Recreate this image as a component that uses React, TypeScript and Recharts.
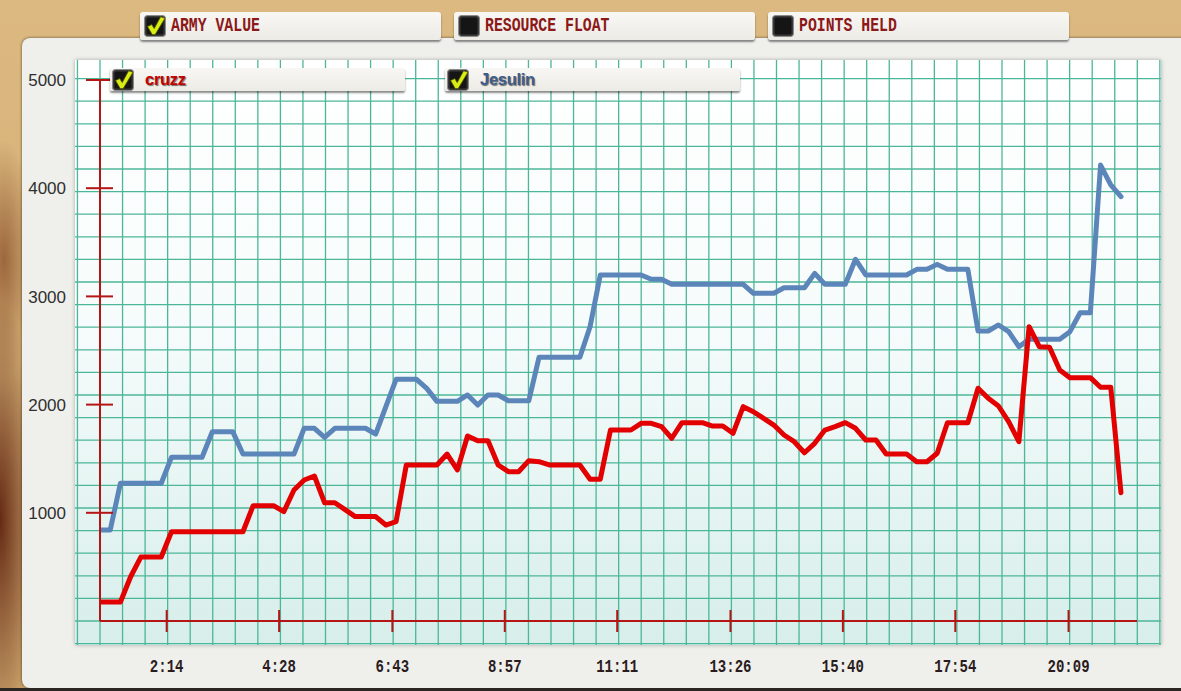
import React from "react";
import { LineChart, Line, XAxis, YAxis, Legend } from "recharts";

// army value, one sample every ~12 s of game time
const cruzzArmy = [
  176, 176, 176, 409, 591, 591, 591, 825, 825, 825,
  825, 825, 825, 825, 825, 1066, 1066, 1066, 1010, 1211,
  1303, 1340, 1093, 1093, 1030, 965, 965, 965, 887, 918,
  1442, 1442, 1442, 1442, 1543, 1396, 1710, 1666, 1666, 1442,
  1380, 1380, 1482, 1472, 1442, 1442, 1442, 1442, 1310, 1310,
  1765, 1765, 1765, 1827, 1827, 1796, 1689, 1833, 1833, 1833,
  1802, 1802, 1735, 1981, 1934, 1873, 1811, 1719, 1657, 1555,
  1642, 1765, 1796, 1833, 1781, 1673, 1673, 1543, 1543, 1543,
  1472, 1472, 1550, 1833, 1833, 1833, 2151, 2058, 1987, 1842,
  1657, 2720, 2535, 2530, 2320, 2249, 2249, 2249, 2160, 2160,
  1186,
];

const jesulinArmy = [
  841, 841, 1273, 1273, 1273, 1273, 1273, 1513, 1513, 1513,
  1513, 1750, 1750, 1750, 1543, 1543, 1543, 1543, 1543, 1543,
  1781, 1781, 1698, 1781, 1781, 1781, 1781, 1728, 1981, 2234,
  2234, 2234, 2150, 2030, 2030, 2030, 2089, 1996, 2089, 2089,
  2036, 2036, 2036, 2437, 2437, 2437, 2437, 2437, 2720, 3198,
  3198, 3198, 3198, 3198, 3158, 3158, 3112, 3112, 3112, 3112,
  3112, 3112, 3112, 3112, 3029, 3029, 3029, 3080, 3080, 3080,
  3213, 3112, 3112, 3112, 3343, 3198, 3198, 3198, 3198, 3198,
  3250, 3250, 3296, 3250, 3250, 3250, 2680, 2680, 2736, 2674,
  2535, 2603, 2603, 2603, 2603, 2674, 2849, 2849, 4214, 4030,
  3922,
];

const sampleStart = 54.5; // seconds
const sampleStep = 12.17; // seconds between samples

const xTickSeconds = [134, 268, 403, 537, 671, 806, 940, 1074, 1209];
const xTickLabels = ["2:14", "4:28", "6:43", "8:57", "11:11", "13:26", "15:40", "17:54", "20:09"];
const yTicks = [1000, 2000, 3000, 4000, 5000];

const players = ["cruzz", "Jesulin"];
const lineColors = ["#e20000", "#5c85b9"];
const nameColors = ["#c20000", "#3e5d8c"];

const statLabels = ["ARMY VALUE", "RESOURCE FLOAT", "POINTS HELD"];
const statChecked = [true, false, false];

const axisRed = "#b41515";

const data = cruzzArmy.map((v, i) => ({
  t: sampleStart + i * sampleStep,
  cruzz: v,
  Jesulin: jesulinArmy[i],
}));

function CheckBox({ checked }: { checked: boolean }) {
  return (
    <svg width={22} height={22} viewBox="0 0 22 22" style={{ display: "block", flex: "none", overflow: "visible" }}>
      <rect x={0.5} y={0.5} width={21} height={21} rx={3} fill="#3a3a3a" stroke="#8a8a8a" strokeWidth={1} />
      <rect x={2.5} y={2.5} width={17} height={17} rx={1.5} fill="#151515" />
      {checked && (
        <path
          d="M3.5 11.5 L7.8 9.6 L10.2 13.6 L16.6 1.8 L21 3.2 L11.2 19.6 L8.2 19.6 Z"
          fill="#d9ec14"
          stroke="#4d5400"
          strokeWidth={0.8}
        />
      )}
    </svg>
  );
}

const tabBase: React.CSSProperties = {
  display: "flex",
  alignItems: "center",
  boxSizing: "border-box",
  background: "linear-gradient(#f8f7f3, #ecebe6)",
  borderRadius: 3,
  boxShadow: "0 2px 2px rgba(0,0,0,0.45)",
};

function XTick(props: any) {
  const { x, y, payload } = props;
  const label = xTickLabels[xTickSeconds.indexOf(payload.value)] ?? "";
  return (
    <g>
      <line x1={x} x2={x} y1={y - 11} y2={y + 11} stroke={axisRed} strokeWidth={2} />
      <g transform={`translate(${x},${y + 51})`}>
        <text
          textAnchor="middle"
          transform="scale(0.78,1)"
          fontFamily="'Liberation Mono', monospace"
          fontWeight="bold"
          fontSize={18}
          fill="#2a1c1c"
        >
          {label}
        </text>
      </g>
    </g>
  );
}

function YTick(props: any) {
  const { x, y, payload } = props;
  return (
    <g>
      <line x1={x - 14} x2={x + 13} y1={y} y2={y} stroke={axisRed} strokeWidth={2} />
      <text
        x={x - 34}
        y={y}
        dy="0.36em"
        textAnchor="end"
        fontFamily="'Liberation Sans', Arial, sans-serif"
        fontSize={17}
        fill="#2f2f2f"
      >
        {payload.value}
      </text>
    </g>
  );
}

function renderLegend(props: any) {
  const items = [...(props.payload ?? [])].sort(
    (a: any, b: any) => players.indexOf(a.value) - players.indexOf(b.value)
  );
  return (
    <div style={{ display: "flex", gap: 40 }}>
      {items.map((e: any) => (
        <div key={e.value} style={{ ...tabBase, width: 295, height: 23, borderRadius: 2, overflow: "visible" }}>
          <div style={{ marginLeft: 2 }}>
            <CheckBox checked />
          </div>
          <span
            style={{
              marginLeft: 11,
              fontFamily: "'Liberation Sans', Arial, sans-serif",
              fontWeight: "bold",
              fontSize: 16.5,
              letterSpacing: -0.3,
              color: nameColors[players.indexOf(e.value)],
              textShadow: "1px 1px 1px rgba(0,0,0,0.55)",
            }}
          >
            {e.value}
          </span>
        </div>
      ))}
    </div>
  );
}

function GridPaper() {
  const left = 75;
  const top = 60;
  const w = 1086;
  const h = 585;
  const vs: number[] = [];
  for (let k = -1; k <= 47; k++) vs.push(100 + 22.55 * k - left);
  const hs: number[] = [];
  for (let k = -1; k <= 24; k++) hs.push(621 - 22.6 * k - top);
  return (
    <div
      style={{
        position: "absolute",
        left,
        top,
        width: w,
        height: h,
        background: "linear-gradient(#ffffff 0%, #f6fcfb 45%, #d7eeeb 100%)",
        boxShadow: "0 0 4px rgba(0,0,0,0.3)",
      }}
    >
      <svg width={w} height={h} style={{ display: "block" }}>
        {vs.map((x, i) => (
          <line key={"v" + i} x1={x} x2={x} y1={0} y2={h} stroke="#4cb699" strokeWidth={1.3} />
        ))}
        {hs.map((y, i) => (
          <line key={"h" + i} x1={0} x2={w} y1={y} y2={y} stroke="#4cb699" strokeWidth={1.3} />
        ))}
      </svg>
    </div>
  );
}

export default function App() {
  return (
    <div
      style={{
        position: "fixed",
        left: 0,
        top: 0,
        width: 1181,
        height: 691,
        overflow: "hidden",
        background:
          "radial-gradient(ellipse 40px 220px at 0px 520px, rgba(95,35,15,0.95), rgba(95,35,15,0) 100%)," +
          "radial-gradient(ellipse 30px 120px at 4px 260px, rgba(130,70,35,0.7), rgba(130,70,35,0) 100%)," +
          "linear-gradient(#dcb980, #cfa86e)",
      }}
    >
      {/* card */}
      <div
        style={{
          position: "absolute",
          left: 22,
          top: 38,
          width: 1180,
          height: 650,
          background: "#efefec",
          borderRadius: 8,
          boxShadow: "0 0 3px rgba(0,0,0,0.6)",
        }}
      />
      <div style={{ position: "absolute", left: 0, top: 688, width: 1181, height: 3, background: "#2b2622" }} />

      {/* stat tabs */}
      <div style={{ position: "absolute", left: 140, top: 12, display: "flex", gap: 13 }}>
        {statLabels.map((s, i) => (
          <div key={s} style={{ ...tabBase, width: 301, height: 28 }}>
            <div style={{ marginLeft: 4 }}>
              <CheckBox checked={statChecked[i]} />
            </div>
            <span
              style={{
                marginLeft: 5,
                display: "inline-block",
                transform: "scaleX(0.76)",
                transformOrigin: "left center",
                fontFamily: "'Liberation Mono', monospace",
                fontWeight: "bold",
                fontSize: 19.5,
                color: "#8c1818",
                whiteSpace: "nowrap",
              }}
            >
              {s}
            </span>
          </div>
        ))}
      </div>

      <GridPaper />

      <div style={{ position: "absolute", left: 0, top: 0 }}>
        <LineChart
          width={1181}
          height={691}
          data={data}
          margin={{ top: 80, right: 44, bottom: 40, left: 40 }}
        >
          <XAxis
            type="number"
            dataKey="t"
            domain={[54.5, 1290.6]}
            ticks={xTickSeconds}
            interval={0}
            tick={<XTick />}
            tickSize={0}
            tickMargin={0}
            tickLine={false}
            axisLine={{ stroke: axisRed, strokeWidth: 2 }}
            height={30}
            allowDataOverflow
          />
          <YAxis
            type="number"
            domain={[0, 5000]}
            ticks={yTicks}
            interval={0}
            tick={<YTick />}
            tickSize={0}
            tickMargin={0}
            tickLine={false}
            axisLine={{ stroke: axisRed, strokeWidth: 2 }}
            width={60}
            allowDataOverflow
          />
          <Legend
            layout="horizontal"
            verticalAlign="middle"
            align="center"
            content={renderLegend}
            wrapperStyle={{ top: 68, left: 110, width: 700 }}
          />
          <Line
            type="linear"
            dataKey="Jesulin"
            name="Jesulin"
            stroke={lineColors[1]}
            strokeWidth={5}
            strokeLinejoin="round"
            strokeLinecap="round"
            dot={false}
            isAnimationActive={false}
          />
          <Line
            type="linear"
            dataKey="cruzz"
            name="cruzz"
            stroke={lineColors[0]}
            strokeWidth={5}
            strokeLinejoin="round"
            strokeLinecap="round"
            dot={false}
            isAnimationActive={false}
          />
        </LineChart>
      </div>
    </div>
  );
}
